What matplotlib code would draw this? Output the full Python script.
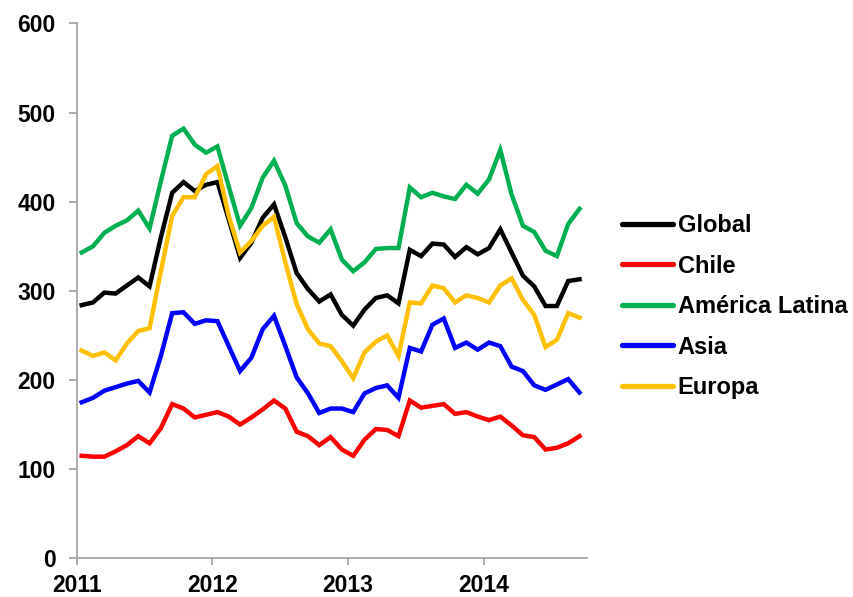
import numpy as np
import matplotlib
matplotlib.use('Agg')
import matplotlib.pyplot as plt

plt.rcParams['font.family'] = ['Liberation Sans', 'DejaVu Sans']
plt.rcParams['font.weight'] = 'bold'

# meses: ene 2011 .. sep 2014
n_meses = 45
x = 2011 + (np.arange(n_meses) + 0.44) / 12

global_ = [284, 287, 298, 297, 306, 315, 305, 360, 410, 422, 412, 419, 422, 380, 337,
           354, 382, 397, 360, 320, 302, 288, 296, 273, 261, 279, 292, 295, 286, 346,
           339, 353, 352, 338, 349, 341, 348, 369, 343, 317, 305, 283, 283, 311, 313]
chile = [115, 114, 114, 120, 127, 137, 129, 146, 173, 168, 158, 161, 164, 159, 150,
         158, 167, 177, 168, 142, 137, 127, 136, 122, 115, 133, 145, 144, 137, 177,
         169, 171, 173, 162, 164, 159, 155, 159, 149, 138, 136, 122, 124, 129, 137]
america_latina = [343, 350, 365, 373, 379, 390, 370, 423, 474, 482, 464, 455, 462, 417, 373,
                  393, 427, 446, 418, 376, 361, 354, 369, 335, 322, 332, 347, 348, 348, 416,
                  405, 410, 406, 403, 419, 409, 425, 458, 408, 373, 366, 345, 339, 375, 392]
asia = [175, 180, 188, 192, 196, 199, 186, 227, 275, 276, 263, 267, 266, 238, 210,
        225, 257, 272, 238, 203, 185, 163, 168, 168, 164, 185, 191, 194, 180, 236,
        232, 262, 269, 236, 242, 234, 242, 238, 215, 210, 194, 189, 195, 201, 186]
europa = [233, 227, 231, 222, 241, 255, 258, 322, 384, 405, 405, 431, 440, 384, 343,
          356, 373, 383, 332, 285, 257, 241, 238, 221, 202, 231, 243, 250, 227, 287,
          286, 306, 303, 287, 295, 292, 287, 306, 314, 290, 273, 237, 245, 275, 270]

series = [
    ('Global', global_, '#000000'),
    ('Chile', chile, '#FF0000'),
    ('América Latina', america_latina, '#00B050'),
    ('Asia', asia, '#0000FF'),
    ('Europa', europa, '#FFC000'),
]

fig = plt.figure(figsize=(8.54, 5.97), dpi=100)
ax = fig.add_axes([0.0898, 0.0648, 0.597, 0.896])

for nombre, vals, col in series:
    ax.plot(x, vals, color=col, lw=3.2, label=nombre, solid_joinstyle='miter')

ax.set_xlim(2011, 2014.755)
ax.set_ylim(0, 600)
ax.set_xticks([2011, 2012, 2013, 2014])
ax.set_xticklabels(['2011', '2012', '2013', '2014'])
ax.set_yticks(range(0, 601, 100))

for s in ['top', 'right']:
    ax.spines[s].set_visible(False)
for s in ['left', 'bottom']:
    ax.spines[s].set_color('#A0A0A0')
    ax.spines[s].set_linewidth(1.2)

ax.tick_params(axis='both', colors='#A0A0A0', labelcolor='black', labelsize=16.5,
               width=1.2)
ax.tick_params(axis='y', length=6, pad=9)
ax.tick_params(axis='x', length=5, pad=6)
for lbl in ax.get_xticklabels() + ax.get_yticklabels():
    lbl.set_fontweight('bold')

leg = fig.legend(loc='center left', bbox_to_anchor=(0.7035, 0.4865), frameon=False,
                 fontsize=17, handlelength=2.15, handletextpad=0.2, labelspacing=0.74)
for t in leg.get_texts():
    t.set_fontweight('bold')
for h in leg.get_lines():
    h.set_linewidth(3.8)
    h.set_solid_capstyle('round')

fig.savefig('out.png', dpi=100)
